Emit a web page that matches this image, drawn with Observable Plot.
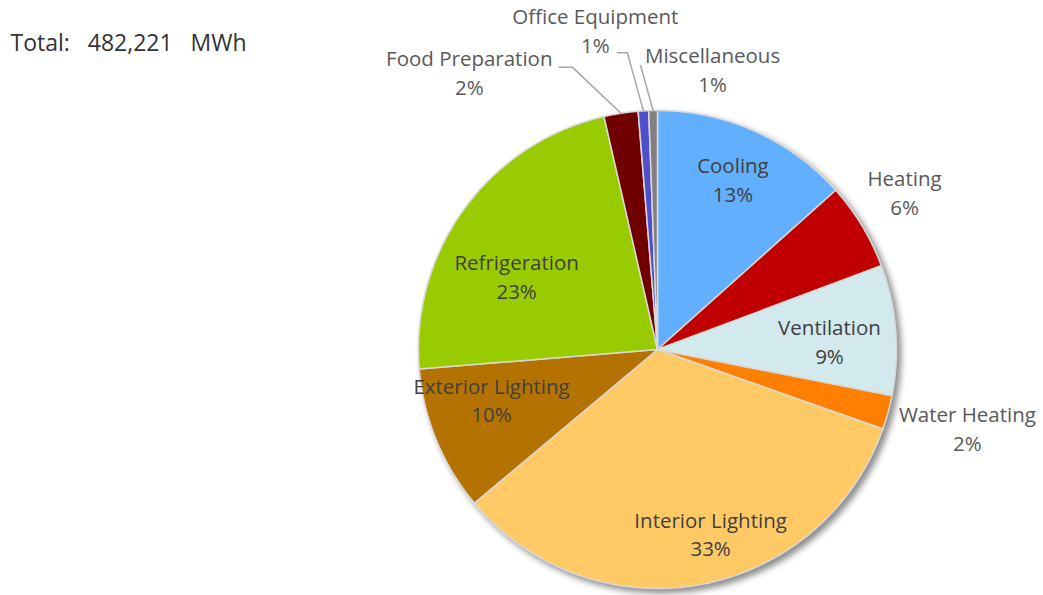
<!DOCTYPE html>
<html>
<head>
<meta charset="utf-8">
<script src="https://cdn.jsdelivr.net/npm/d3@7"></script>
<script src="https://cdn.jsdelivr.net/npm/@observablehq/plot@0.6"></script>
<style>
  html, body { margin: 0; padding: 0; background: #fff; }
  #chart { width: 1043px; height: 595px; }
</style>
</head>
<body>
<div id="chart"></div>
<script>
// ---- Data ----
const categories = ["Cooling", "Heating", "Ventilation", "Water Heating", "Interior Lighting",
  "Exterior Lighting", "Refrigeration", "Food Preparation", "Office Equipment", "Miscellaneous"];
const energyMWh = [64600, 28500, 42400, 11100, 161500, 47300, 109500, 11100, 3400, 2821];
const colors = ["#61AFFE", "#C00000", "#D2E9EE", "#FF8000", "#FFCA66",
  "#B47300", "#99CC00", "#700000", "#4F4FCC", "#808080"];
const totalUnit = "MWh";

// ---- Label layout (polar: degrees clockwise from 12 o'clock, radius as fraction of pie radius) ----
const labelAngle  = [24.2, 57.9, 88.0, 104.6, 164.1, 252.5, 296.9, 325.6, 348.9, 11.2];
const labelRadius = [0.77, 1.22, 0.72, 1.34, 0.811, 0.728, 0.661, 1.394, 1.351, 1.186];
// leader lines: [elbow angle, elbow radius, horizontal tail in px]
const leaderElbow = {
  "Food Preparation": [343.2, 1.234, -13],
  "Office Equipment": [354.2, 1.248, -10],
  "Miscellaneous":    [356.6, 1.19, 0]
};

// ---- Geometry ----
const cx = 657, cy = 349, R = 239;
const total = d3.sum(energyMWh);
const rows = categories.map((c, i) => ({category: c, value: energyMWh[i]}));
const arcs = d3.pie().sort(null).value(d => d.value)(rows);
const polar = (a, r) => ({x: r * Math.sin(a), y: r * Math.cos(a)});
const rad = deg => deg * Math.PI / 180;

const wedgePts = [];
for (const a of arcs) {
  const cat = a.data.category;
  wedgePts.push({cat, x: 0, y: 0});
  const n = Math.max(2, Math.ceil((a.endAngle - a.startAngle) / 0.005));
  for (let k = 0; k <= n; k++) {
    const t = a.startAngle + (a.endAngle - a.startAngle) * k / n;
    wedgePts.push({cat, ...polar(t, 1)});
  }
  wedgePts.push({cat, x: 0, y: 0});
}

const labels = arcs.map((a, i) => {
  const p = polar(rad(labelAngle[i]), labelRadius[i]);
  const pct = Math.round(a.data.value / total * 100);
  return {category: a.data.category, x: p.x, y: p.y,
    text: `${a.data.category}\n${pct}%`, inside: labelRadius[i] < 1};
});

const leaderPts = [];
for (const a of arcs) {
  const e = leaderElbow[a.data.category];
  if (!e) continue;
  const cat = a.data.category;
  const mid = (a.startAngle + a.endAngle) / 2;
  const p0 = polar(mid, 1);
  const p1 = polar(rad(e[0]), e[1]);
  leaderPts.push({cat, ...p0}, {cat, ...p1});
  if (e[2]) leaderPts.push({cat, x: p1.x + e[2] / R, y: p1.y});
}

const nb = "\u00a0\u00a0\u00a0";
const titleText = `Total:${nb}${d3.format(",")(total)}${nb}${totalUnit}`;
const font = "'Open Sans', 'Segoe UI', 'DejaVu Sans', sans-serif";

const chart = Plot.plot({
  width: 1043,
  height: 595,
  margin: 0,
  x: {domain: [-1, 1], range: [cx - R, cx + R], axis: null},
  y: {domain: [-1, 1], range: [cy + R, cy - R], axis: null},
  color: {domain: categories, range: colors},
  style: {fontFamily: font, background: "white", overflow: "visible"},
  marks: [
    Plot.line(wedgePts, {x: "x", y: "y", z: "cat", fill: "cat", stroke: "#d9d9d9", strokeWidth: 1.5, strokeLinejoin: "round"}),
    Plot.line(leaderPts, {x: "x", y: "y", z: "cat", stroke: "#a6a6a6", strokeWidth: 1.5}),
    Plot.text(labels, {filter: d => d.inside, x: "x", y: "y", text: "text", fill: "#404040", fontSize: 20.5, lineHeight: 1.4, dy: -3}),
    Plot.text(labels, {filter: d => !d.inside, x: "x", y: "y", text: "text", fill: "#595959", fontSize: 20.5, lineHeight: 1.4, dy: -3}),
    Plot.text([titleText], {text: d => d, frameAnchor: "top-left", lineAnchor: "middle", textAnchor: "start", dx: 10, dy: 43, fontSize: 23, fill: "#333333"})
  ]
});

const wedgeGroup = chart.querySelector('g[aria-label="line"]');
if (wedgeGroup) wedgeGroup.style.filter = "drop-shadow(4px 4px 3px rgba(0,0,0,0.45))";
document.getElementById("chart").appendChild(chart);
</script>
</body>
</html>
